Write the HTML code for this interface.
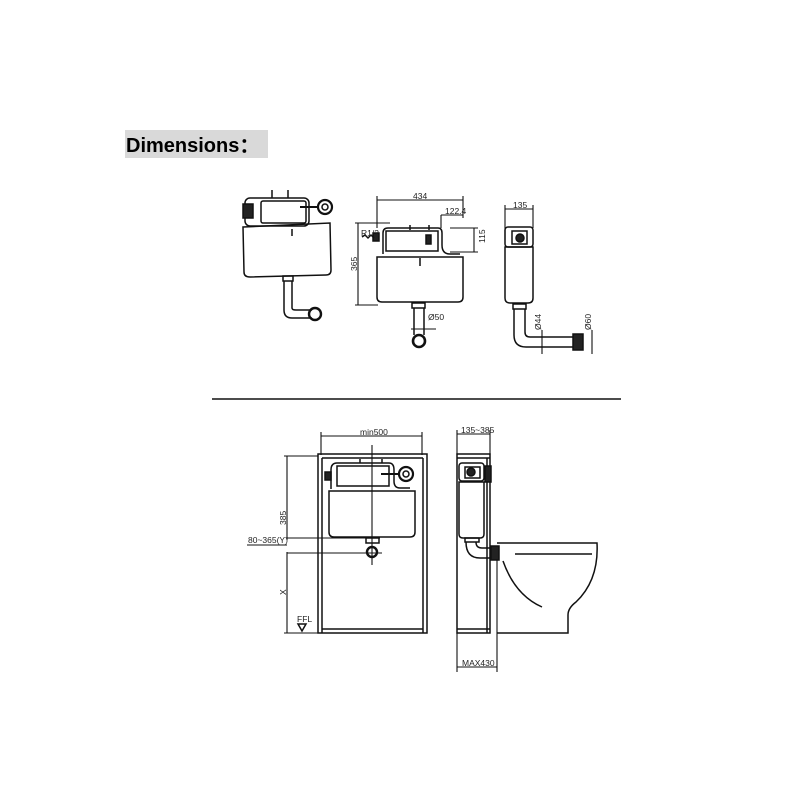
<!DOCTYPE html>
<html><head><meta charset="utf-8"><style>
html,body{margin:0;padding:0;background:#fff;}
svg{display:block;}
text{font-family:"Liberation Sans",sans-serif;fill:#222;}
</style></head><body>
<svg width="800" height="800" viewBox="0 0 800 800" xmlns="http://www.w3.org/2000/svg">
<rect x="0" y="0" width="800" height="800" fill="#fff"/>
<rect x="125" y="130" width="143" height="28" fill="#d9d9d9"/>
<text x="126" y="152" font-size="20" font-weight="bold" fill="#000" style="fill:#000">Dimensions：</text>

<g fill="none" stroke="#111" stroke-width="1.5">
<rect x="245" y="198" width="64" height="28" rx="5"/>
<rect x="261" y="201" width="45" height="22" rx="2"/>
<line x1="272" y1="190" x2="272" y2="198"/><line x1="288" y1="190" x2="288" y2="198"/>
<rect x="243" y="204" width="10" height="14" fill="#222"/>
<circle cx="325" cy="207" r="7" stroke-width="2.2"/><circle cx="325" cy="207" r="3"/>
<line x1="300" y1="207" x2="318" y2="207" stroke-width="2"/>
<path d="M243 227 L330 223 L331 270 Q331 275 326 275 L250 277 Q244 277 244 272 Z"/>
<line x1="292" y1="229" x2="292" y2="236"/>
<rect x="283" y="276" width="10" height="5"/>
<path d="M284 281 L284 310 Q284 318 292 318 L312 318 M292 281 L292 308 Q292 310 296 310 L312 310"/>
<circle cx="315" cy="314" r="6" stroke-width="2.4"/>

<g stroke-width="1.1">
<line x1="377" y1="200" x2="463" y2="200"/>
<line x1="377" y1="196" x2="377" y2="228"/>
<line x1="463" y1="196" x2="463" y2="218"/>
<line x1="441" y1="215" x2="463" y2="215"/>
<line x1="441" y1="215" x2="441" y2="228"/>
<line x1="450" y1="228" x2="478" y2="228"/>
<line x1="450" y1="252" x2="478" y2="252"/>
<line x1="474" y1="228" x2="474" y2="252"/>
<line x1="358" y1="223" x2="358" y2="305"/>
<line x1="355" y1="223" x2="390" y2="223"/>
<line x1="355" y1="305" x2="378" y2="305"/>
</g>
<path d="M383 254 L383 233 Q383 228 388 228 L438 228 Q442 228 442 233 L442 245 Q442 254 450 254 L460 254"/>
<rect x="386" y="231" width="52" height="20"/>
<line x1="410" y1="225" x2="410" y2="230"/><line x1="429" y1="225" x2="429" y2="230"/>
<rect x="426" y="235" width="5" height="9" fill="#222"/>
<rect x="373" y="233" width="6" height="8" fill="#222"/>
<path d="M362 237 l3 -2 l3 3 l3 -3 l3 3" />
<path d="M377 257 L463 257 L463 297 Q463 302 458 302 L382 302 Q377 302 377 297 Z"/>
<line x1="420" y1="258" x2="420" y2="266"/>
<rect x="412" y="303" width="13" height="5"/>
<line x1="414" y1="308" x2="414" y2="335"/><line x1="424" y1="308" x2="424" y2="335"/>
<line x1="411" y1="329" x2="436" y2="329" stroke-width="1.1"/>
<circle cx="419" cy="341" r="6" stroke-width="2.6"/>

<line x1="505" y1="209" x2="533" y2="209" stroke-width="1.1"/>
<line x1="505" y1="205" x2="505" y2="240" stroke-width="1.1"/>
<line x1="533" y1="205" x2="533" y2="228" stroke-width="1.1"/>
<rect x="505" y="227" width="28" height="20" rx="3"/>
<rect x="512" y="231" width="15" height="13"/>
<circle cx="520" cy="238" r="4" fill="#222"/>
<path d="M505 247 L533 247 L533 298 Q533 303 528 303 L510 303 Q505 303 505 298 Z"/>
<rect x="513" y="304" width="13" height="5"/>
<path d="M514 309 L514 335 Q514 347 526 347 L573 347 M525 309 L525 332 Q525 337 530 337 L573 337"/>
<rect x="573" y="334" width="10" height="16" fill="#222"/>
<line x1="542" y1="330" x2="542" y2="354" stroke-width="1.1"/>
<line x1="592" y1="330" x2="592" y2="354" stroke-width="1.1"/>

<line x1="212" y1="399" x2="621" y2="399"/>

<g stroke-width="1.1">
<line x1="321" y1="436" x2="422" y2="436"/>
<line x1="321" y1="432" x2="321" y2="455"/>
<line x1="422" y1="432" x2="422" y2="455"/>
<line x1="287" y1="456" x2="287" y2="540"/>
<line x1="287" y1="552" x2="287" y2="633"/>
<line x1="284" y1="456" x2="318" y2="456"/>
<line x1="284" y1="633" x2="318" y2="633"/>
<line x1="287" y1="538" x2="380" y2="538"/>
<line x1="287" y1="553" x2="382" y2="553"/>
<line x1="247" y1="545" x2="287" y2="545"/>
<line x1="372" y1="445" x2="372" y2="565"/>
</g>
<rect x="318" y="454" width="109" height="179"/>
<line x1="322" y1="458" x2="322" y2="633"/>
<line x1="322" y1="458" x2="423" y2="458"/>
<line x1="423" y1="458" x2="423" y2="633"/>
<line x1="322" y1="629" x2="423" y2="629"/>
<path d="M298 624 L306 624 L302 631 Z"/>
<path d="M331 489 L331 470 Q331 463 337 463 L389 463 Q394 463 394 470 L394 481 Q394 488 400 488 L410 488"/>
<rect x="337" y="466" width="52" height="20"/>
<rect x="325" y="472" width="6" height="8" fill="#222"/>
<line x1="360" y1="459" x2="360" y2="463"/><line x1="382" y1="459" x2="382" y2="463"/>
<circle cx="406" cy="474" r="7" stroke-width="2.2"/><circle cx="406" cy="474" r="3"/>
<line x1="381" y1="474" x2="399" y2="474" stroke-width="2"/>
<path d="M329 491 L415 491 L415 532 Q415 537 410 537 L334 537 Q329 537 329 532 Z"/>
<rect x="366" y="538" width="13" height="5"/>
<circle cx="372" cy="552" r="5" stroke-width="2.4"/>

<g stroke-width="1.1">
<line x1="457" y1="434" x2="490" y2="434"/>
<line x1="457" y1="430" x2="457" y2="455"/>
<line x1="490" y1="430" x2="490" y2="455"/>
<line x1="497" y1="560" x2="497" y2="672"/>
<line x1="457" y1="633" x2="457" y2="672"/>
<line x1="457" y1="667" x2="497" y2="667"/>
</g>
<rect x="457" y="454" width="33" height="179"/>
<line x1="457" y1="458" x2="490" y2="458"/>
<line x1="457" y1="629" x2="490" y2="629"/>
<line x1="487" y1="458" x2="487" y2="633"/>
<rect x="459" y="463" width="25" height="18" rx="3"/>
<rect x="465" y="467" width="15" height="11"/>
<circle cx="471" cy="472" r="4" fill="#222"/>
<rect x="485" y="466" width="6" height="16" fill="#222"/>
<path d="M459 482 L484 482 L484 534 Q484 538 480 538 L463 538 Q459 538 459 534 Z"/>
<rect x="465" y="538" width="14" height="4"/>
<path d="M466 542 Q466 558 480 558 L491 558 M476 542 Q476 548 482 548 L491 548"/>
<rect x="491" y="546" width="8" height="14" fill="#222"/>
<path d="M497 543 L597 543 Q599 580 576 602 Q568 608 568 615 L568 633 L497 633"/>
<line x1="515" y1="554" x2="592" y2="554"/>
<path d="M503 561 Q515 595 542 607"/>
</g>

<g font-size="8.5">
<text x="413" y="199">434</text>
<text x="445" y="214">122.4</text>
<text x="361" y="236">R1/2</text>
<text x="485" y="243" transform="rotate(-90 485 243)">115</text>
<text x="357" y="271" transform="rotate(-90 357 271)">365</text>
<text x="428" y="320">Ø50</text>
<text x="513" y="208">135</text>
<text x="541" y="330" transform="rotate(-90 541 330)">Ø44</text>
<text x="591" y="330" transform="rotate(-90 591 330)">Ø60</text>
<text x="360" y="435">min500</text>
<text x="286" y="525" transform="rotate(-90 286 525)">385</text>
<text x="248" y="543">80~365(Y)</text>
<text x="286" y="595" transform="rotate(-90 286 595)">X</text>
<text x="297" y="622">FFL</text>
<text x="461" y="433">135~385</text>
<text x="462" y="666">MAX430</text>
</g>
</svg>
</body></html>
